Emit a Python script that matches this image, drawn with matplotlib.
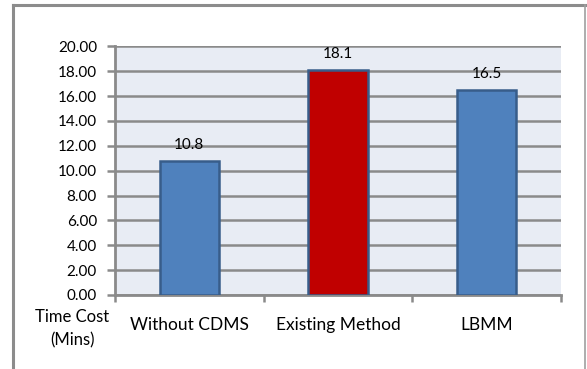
import matplotlib
matplotlib.use("Agg")
import matplotlib.pyplot as plt
from matplotlib.lines import Line2D

categories = ["Without CDMS", "Existing Method", "LBMM"]
values = [10.8, 18.1, 16.5]
value_labels = ["10.8", "18.1", "16.5"]
bar_colors = ["#4F81BD", "#C00000", "#4F81BD"]
yticks = [0, 2, 4, 6, 8, 10, 12, 14, 16, 18, 20]
ytick_labels = ["%.2f" % v for v in yticks]

plt.rcParams['font.family'] = ['Lato', 'DejaVu Sans']

W, H = 587, 369
fig = plt.figure(figsize=(W / 100, H / 100), dpi=100)
fig.patch.set_facecolor("white")


def fx(px):
    return px / W


def fy(py):
    return 1 - py / H


# outer chart frame
fig.add_artist(Line2D([fx(13), fx(13)], [fy(4.5), fy(372)], color="#8C8C8C", lw=2.2))
fig.add_artist(Line2D([fx(13), fx(585)], [fy(4.5), fy(4.5)], color="#8C8C8C", lw=2.2))
fig.add_artist(Line2D([fx(584.5), fx(584.5)], [fy(4.5), fy(372)], color="#A0A0A0", lw=1.2))

ax = fig.add_axes([fx(115), fy(295), (561 - 115) / W, (295 - 46.4) / H])
ax.set_facecolor("#E8ECF4")

x = list(range(len(categories)))
ax.bar(x, values, width=0.40, color=bar_colors, edgecolor="#385D8A", linewidth=1.8, zorder=3)

for xi, v, lab in zip(x, values, value_labels):
    ax.annotate(lab, (xi, v), xytext=(0, 6.5), textcoords="offset points",
                ha="center", va="bottom", fontsize=11, color="black", zorder=4)

ax.set_xlim(-0.5, len(categories) - 0.5)
ax.set_ylim(0, 20)
ax.set_yticks(yticks)
ax.set_yticklabels(ytick_labels, fontsize=11)
ax.yaxis.grid(True, color="#8A8A8A", linewidth=1.8, zorder=1)
ax.set_axisbelow(True)

# x ticks at category boundaries (no labels), labels placed via minor ticks
ax.set_xticks([i - 0.5 for i in range(len(categories) + 1)])
ax.set_xticklabels([""] * (len(categories) + 1))
ax.set_xticks(x, minor=True)
ax.set_xticklabels(categories, minor=True, fontsize=12.5)
ax.tick_params(axis="x", which="minor", length=0, pad=16)
ax.tick_params(axis="x", which="major", length=5, width=1.8, color="#8A8A8A")
ax.tick_params(axis="y", length=6, width=1.8, color="#8A8A8A", pad=7)

for s in ["top", "right"]:
    ax.spines[s].set_visible(False)
for s in ["left", "bottom"]:
    ax.spines[s].set_color("#8A8A8A")
    ax.spines[s].set_linewidth(2)

fig.text(fx(72.5), fy(317), "Time Cost", ha="center", va="center", fontsize=12)
fig.text(fx(72.5), fy(340), "(Mins)", ha="center", va="center", fontsize=12)

fig.savefig("out.png", dpi=100)
